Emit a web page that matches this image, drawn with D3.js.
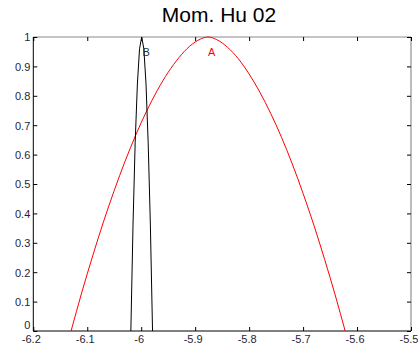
<!DOCTYPE html>
<html>
<head>
<meta charset="utf-8">
<script src="https://cdn.jsdelivr.net/npm/d3@7"></script>
<style>
  html, body { margin: 0; padding: 0; background: #fff; }
  svg { display: block; }
</style>
</head>
<body>
<div id="chart"></div>
<script>
// ---- data ----
const titleText = "Mom. Hu 02";
const xTicks = [-6.2, -6.1, -6.0, -5.9, -5.8, -5.7, -5.6, -5.5];
const xTickLabels = ["-6.2", "-6.1", "-6", "-5.9", "-5.8", "-5.7", "-5.6", "-5.5"];
const yTicks = [0, 0.1, 0.2, 0.3, 0.4, 0.5, 0.6, 0.7, 0.8, 0.9, 1];
const yTickLabels = ["0", "0.1", "0.2", "0.3", "0.4", "0.5", "0.6", "0.7", "0.8", "0.9", "1"];

// curve A (red)
const seriesAX = [-6.130, -6.110, -6.090, -6.070, -6.050, -6.030, -6.010, -5.990, -5.970, -5.950, -5.930, -5.910, -5.890, -5.876, -5.860, -5.840, -5.820, -5.800, -5.780, -5.760, -5.740, -5.720, -5.700, -5.680, -5.660, -5.640, -5.622];
const seriesAY = [0, 0.132, 0.255, 0.371, 0.478, 0.577, 0.667, 0.748, 0.819, 0.880, 0.930, 0.969, 0.993, 1.0, 0.991, 0.965, 0.926, 0.874, 0.812, 0.740, 0.659, 0.568, 0.468, 0.360, 0.243, 0.119, 0];

// curve B (black)
const seriesBX = [-6.0192, -6.0152, -6.0112, -6.0071, -6.0031, -5.9991, -5.9951, -5.9911, -5.9871, -5.9830, -5.9790];
const seriesBY = [0, 0.36, 0.64, 0.84, 0.96, 1.0, 0.96, 0.84, 0.64, 0.36, 0];

const labelA = { text: "A", x: -5.876, y: 0.95 };
const labelB = { text: "B", x: -5.9975, y: 0.95 };

// ---- drawing ----
const W = 418, H = 352;
const L = 33.3, R = 411, T = 37, B = 331;

const svg = d3.select("#chart").append("svg").attr("width", W).attr("height", H)
  .style("font-family", "Arial, 'Liberation Sans', sans-serif");

svg.append("rect").attr("width", W).attr("height", H).attr("fill", "#fff");

const x = d3.scaleLinear().domain([-6.2, -5.5]).range([L, R]);
const y = d3.scaleLinear().domain([0, 1]).range([B, T]);

const tickColor = "#000";
const labelColor = "#1e1e3a";

// box
svg.append("line").attr("x1", L).attr("x2", R).attr("y1", T).attr("y2", T).attr("stroke", "#8a8a8a");
svg.append("line").attr("x1", R).attr("x2", R).attr("y1", T).attr("y2", B).attr("stroke", "#7a7a7a");

// bottom axis
const gx = svg.append("g").attr("transform", `translate(0,${B})`)
  .call(d3.axisBottom(x).tickValues(xTicks).tickSize(-4).tickPadding(4)
    .tickFormat((d, i) => xTickLabels[i]));
gx.select(".domain").remove();
gx.selectAll(".tick line").attr("stroke", tickColor);
gx.selectAll(".tick text").attr("fill", labelColor).attr("font-size", 11).attr("dx", -2.5)
  .attr("font-family", "Arial, 'Liberation Sans', sans-serif");

// top axis ticks
const gt = svg.append("g").attr("transform", `translate(0,${T})`)
  .call(d3.axisTop(x).tickValues(xTicks).tickSize(-4).tickFormat(""));
gt.select(".domain").remove();
gt.selectAll(".tick line").attr("stroke", tickColor);

// left axis
const gy = svg.append("g").attr("transform", `translate(${L},0)`)
  .call(d3.axisLeft(y).tickValues(yTicks).tickSize(-4).tickPadding(3)
    .tickFormat((d, i) => yTickLabels[i]));
gy.select(".domain").remove();
gy.selectAll(".tick line").attr("stroke", tickColor);
gy.selectAll(".tick text").attr("fill", labelColor).attr("font-size", 11)
  .attr("font-family", "Arial, 'Liberation Sans', sans-serif")
  .attr("dy", (d) => d === 0 ? "-0.25em" : "0.35em");

// right axis ticks
const gr = svg.append("g").attr("transform", `translate(${R},0)`)
  .call(d3.axisRight(y).tickValues(yTicks).tickSize(-4).tickFormat(""));
gr.select(".domain").remove();
gr.selectAll(".tick line").attr("stroke", tickColor);

// left and bottom axis lines
svg.append("line").attr("x1", L).attr("x2", L).attr("y1", T).attr("y2", B).attr("stroke", "#000");
svg.append("line").attr("x1", L).attr("x2", R).attr("y1", B).attr("y2", B).attr("stroke", "#000");

// curves
const line = d3.line().x(d => x(d[0])).y(d => y(d[1]));
const dataA = seriesAX.map((v, i) => [v, seriesAY[i]]);
const dataB = seriesBX.map((v, i) => [v, seriesBY[i]]);

svg.append("path").datum(dataA).attr("d", line.curve(d3.curveMonotoneX))
  .attr("fill", "none").attr("stroke", "#ff0000").attr("stroke-width", 1);
svg.append("path").datum(dataB).attr("d", d3.line().x(d => x(d[0])).y(d => y(d[1])))
  .attr("fill", "none").attr("stroke", "#000").attr("stroke-width", 1);

// point labels
svg.append("text").attr("x", x(labelA.x)).attr("y", y(labelA.y)).attr("dy", "0.35em")
  .attr("font-size", 11).attr("fill", "#ff0000").text(labelA.text);
svg.append("text").attr("x", x(labelB.x)).attr("y", y(labelB.y)).attr("dy", "0.35em")
  .attr("font-size", 11).attr("fill", "#2a2a3a").text(labelB.text);

// title
svg.append("text").attr("x", 219).attr("y", 22).attr("text-anchor", "middle")
  .attr("font-size", 21).attr("fill", "#000").text(titleText);
</script>
</body>
</html>
